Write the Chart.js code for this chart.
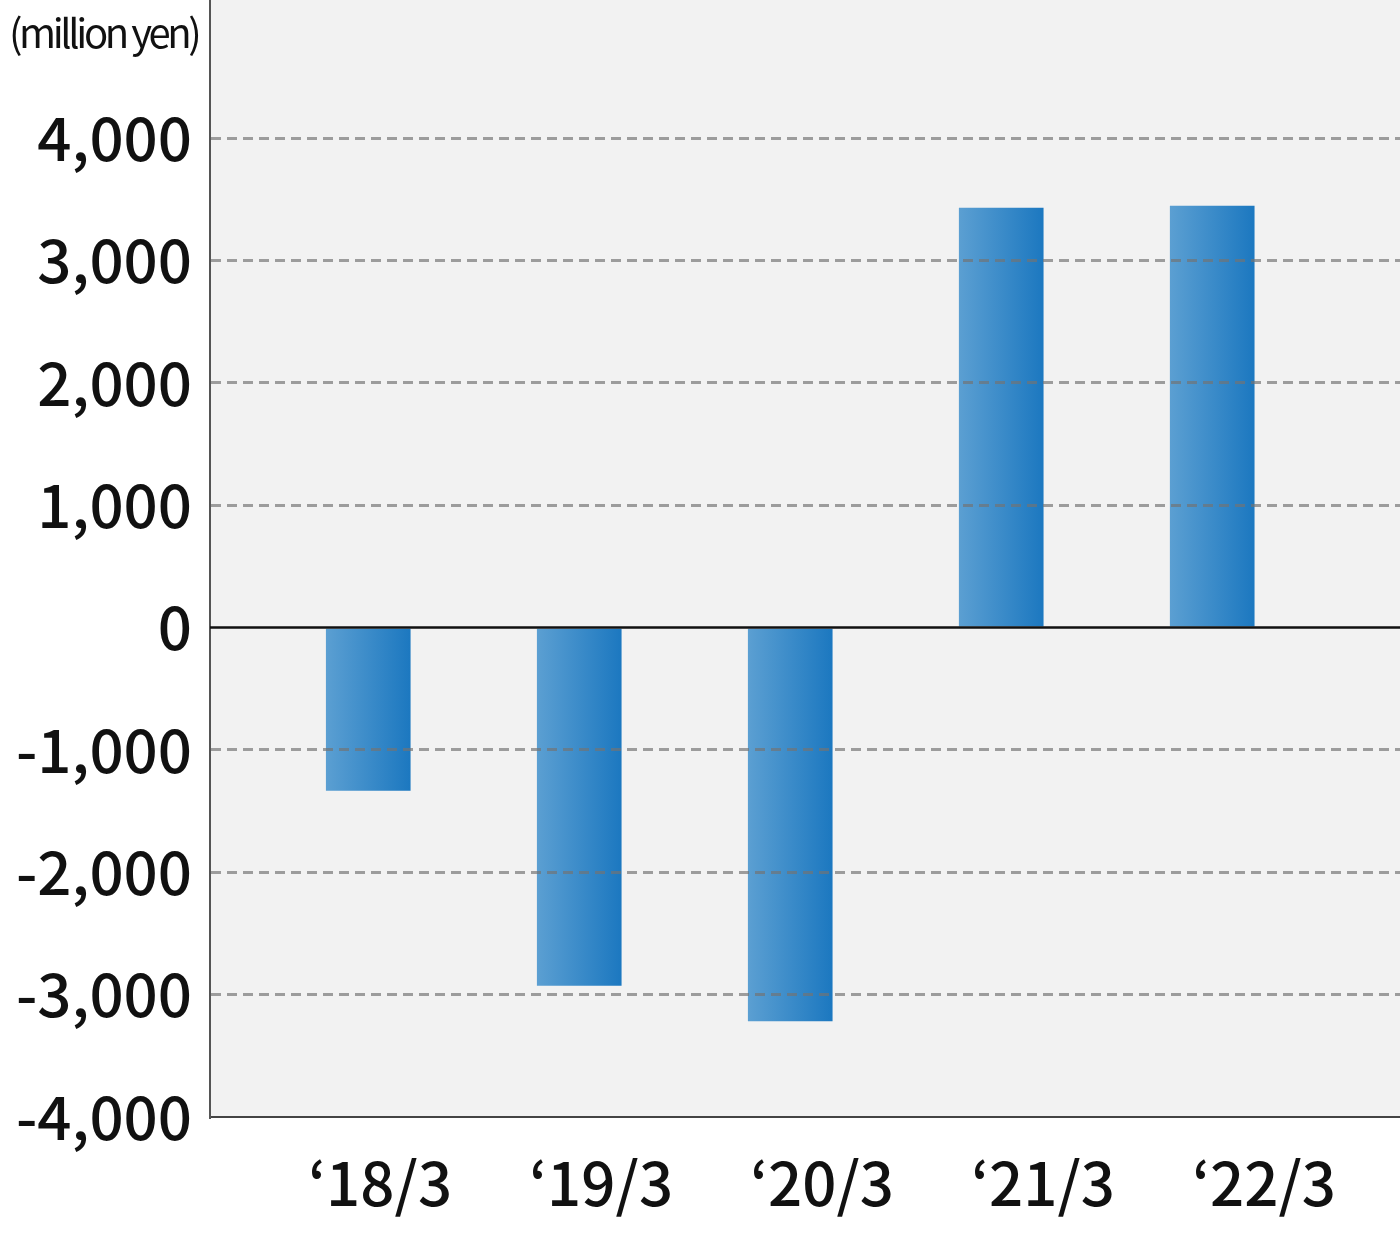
<!DOCTYPE html>
<html>
<head>
<meta charset="utf-8">
<script src="https://cdn.jsdelivr.net/npm/chart.js@4"></script>
<style>
  html, body { margin: 0; padding: 0; background: #fff; }
  #wrap { width: 1400px; height: 1236px; }
</style>
</head>
<body>
<div id="wrap"><canvas id="profit-chart"></canvas></div>
<script>
const categories = ["‘18/3", "‘19/3", "‘20/3", "‘21/3", "‘22/3"];
const values = [-1330, -2925, -3215, 3430, 3445];
const yTicks = [-4000, -3000, -2000, -1000, 0, 1000, 2000, 3000, 4000];
const unitLabel = "(million yen)";

const font = "'Noto Sans CJK JP', 'Noto Sans', sans-serif";

const points = values.map((v, i) => ({ x: i, y: v }));

// light grey plot background, zero line and unit label
const chartDecor = {
  id: "chartDecor",
  beforeDraw(chart) {
    const { ctx, chartArea } = chart;
    ctx.save();
    ctx.fillStyle = "#f2f2f2";
    ctx.fillRect(chartArea.left, chartArea.top, chartArea.right - chartArea.left, chartArea.bottom - chartArea.top);
    ctx.restore();
  },
  afterDraw(chart) {
    const { ctx, chartArea } = chart;
    const y0 = chart.scales.y.getPixelForValue(0);
    ctx.save();
    ctx.strokeStyle = "#111";
    ctx.lineWidth = 2.5;
    ctx.beginPath();
    ctx.moveTo(chartArea.left, y0);
    ctx.lineTo(chartArea.right, y0);
    ctx.stroke();

    ctx.fillStyle = "#111";
    ctx.font = "40px " + font;
    if ("letterSpacing" in ctx) ctx.letterSpacing = "-3.4px";
    ctx.textAlign = "left";
    ctx.textBaseline = "middle";
    ctx.fillText(unitLabel, 9, 33);
    ctx.restore();
  }
};

function barGradient(context) {
  const chart = context.chart;
  const x = chart.scales.x;
  const cx = x && context.dataIndex !== undefined ? x.getPixelForValue(context.dataIndex) : NaN;
  if (!isFinite(cx)) return "#3a8ccc";
  const g = chart.ctx.createLinearGradient(cx - 42, 0, cx + 42, 0);
  g.addColorStop(0, "#5b9fd2");
  g.addColorStop(1, "#1c78c0");
  return g;
}

const config = {
  type: "bar",
  data: {
    datasets: [
      {
        label: "Profit",
        data: points,
        backgroundColor: barGradient,
        borderWidth: 0,
        barThickness: 84,
      },
    ],
  },
  options: {
    responsive: true,
    maintainAspectRatio: false,
    animation: false,
    layout: { padding: 0 },
    plugins: {
      legend: { display: false },
      tooltip: { enabled: false },
    },
    scales: {
      // axis carrying the bars (no labels)
      x: {
        type: "linear",
        offset: false,
        min: -0.75,
        max: 4.89,
        afterBuildTicks: (scale) => {
          scale.ticks = categories.map((c, i) => ({ value: i }));
        },
        afterFit: (scale) => {
          scale.height = 0;
          scale.paddingLeft = 0;
          scale.paddingRight = 0;
        },
        grid: { display: false, drawTicks: false },
        border: { display: true, color: "#444", width: 2 },
        ticks: { display: false },
      },
      // label axis: the labels in the original sit on a slightly wider spacing
      xLabels: {
        type: "linear",
        axis: "x",
        position: "bottom",
        offset: false,
        min: -0.77,
        max: 4.615,
        afterBuildTicks: (scale) => {
          scale.ticks = categories.map((c, i) => ({ value: i }));
        },
        afterFit: (scale) => {
          scale.height = 119;
          scale.paddingLeft = 0;
          scale.paddingRight = 0;
        },
        grid: { display: false, drawTicks: false },
        border: { display: false },
        ticks: {
          callback: (v) => categories[v] ?? "",
          color: "#111",
          font: { family: font, size: 60, weight: 500 },
          padding: 30,
          maxRotation: 0,
          autoSkip: false,
        },
      },
      y: {
        min: -4000,
        max: 5130,
        afterBuildTicks: (scale) => {
          scale.ticks = yTicks.map((v) => ({ value: v }));
        },
        afterFit: (scale) => {
          scale.width = 210;
          scale.paddingTop = 0;
          scale.paddingBottom = 0;
        },
        grid: {
          drawTicks: false,
          lineWidth: 3,
          z: 1,
          color: (ctx) => {
            const v = ctx.tick ? ctx.tick.value : null;
            return v === 0 || v === -4000 ? "rgba(0,0,0,0)" : "rgba(115,115,115,0.68)";
          },
        },
        border: { display: true, color: "#555", width: 2, dash: [10, 6] },
        ticks: {
          color: "#111",
          font: { family: font, size: 60, weight: 500 },
          padding: 18,
          callback: (v) => v.toLocaleString("en-US"),
        },
      },
    },
  },
  plugins: [chartDecor],
};

const canvas = document.getElementById("profit-chart");
const chart = new Chart(canvas, config);
chart.update();
</script>
</body>
</html>
